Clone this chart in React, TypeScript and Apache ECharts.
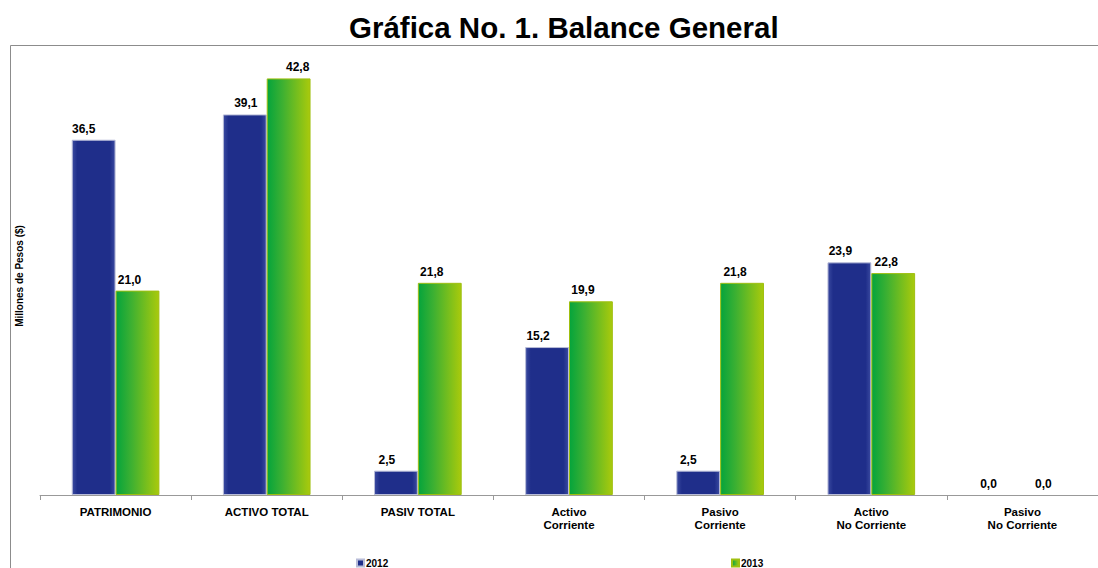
import React, { useEffect, useRef } from "react";
import * as echarts from "echarts";

const categories = [
  "PATRIMONIO",
  "ACTIVO TOTAL",
  "PASIV TOTAL",
  "Activo\nCorriente",
  "Pasivo\nCorriente",
  "Activo\nNo Corriente",
  "Pasivo\nNo Corriente",
];
const values2012 = [36.5, 39.1, 2.5, 15.2, 2.5, 23.9, 0.0];
const values2013 = [21.0, 42.8, 21.8, 19.9, 21.8, 22.8, 0.0];

// horizontal nudges of the value labels, as placed in the original
const labelShift2012 = [-10, 1, -9, -9, -10, -9, -12];
const labelShift2013 = [-8, 9, -8, -8, -7, -7, -1];

const FONT = "Arial, 'Liberation Sans', sans-serif";
const fmt = (p: any) => Number(p.value).toFixed(1).replace(".", ",");

function buildData(values: number[], shifts: number[]) {
  return values.map((v, i) => ({
    value: v,
    label: { offset: [shifts[i], 0] },
    itemStyle: v === 0 ? { borderWidth: 0 } : undefined,
  }));
}

export default function App() {
  const ref = useRef<HTMLDivElement>(null);
  useEffect(() => {
    if (!ref.current) return;
    const chart = echarts.init(ref.current, null, { renderer: "svg" });
    const blue = new echarts.graphic.LinearGradient(0, 0, 1, 0, [
      { offset: 0, color: "#3a4aa0" },
      { offset: 0.12, color: "#1f2e8a" },
      { offset: 0.88, color: "#1f2e8a" },
      { offset: 1, color: "#3a4aa0" },
    ]);
    const green = new echarts.graphic.LinearGradient(0, 0, 1, 0, [
      { offset: 0, color: "#05a43c" },
      { offset: 0.35, color: "#3cb032" },
      { offset: 1, color: "#a9ca0c" },
    ]);
    const labelStyle = {
      show: true,
      position: "top" as const,
      distance: 5,
      formatter: fmt,
      color: "#000",
      fontFamily: FONT,
      fontWeight: "bold" as const,
      fontSize: 12,
    };
    const legendText = {
      fontFamily: FONT,
      fontWeight: "bold" as const,
      fontSize: 10,
      color: "#000",
      padding: [0, 0, 0, -3],
    };
    chart.setOption({
      animation: false,
      backgroundColor: "#fff",
      title: {
        text: "Gráfica No. 1. Balance General",
        left: 344,
        top: 7,
        textStyle: {
          fontFamily: FONT,
          fontWeight: "bold",
          fontSize: 29.5,
          color: "#000",
        },
      },
      graphic: [
        {
          type: "rect",
          shape: { x: 10.5, y: 45.5, width: 1100, height: 600 },
          style: { fill: "none", stroke: "#8c8c8c", lineWidth: 1 },
          silent: true,
          z: -1,
        },
      ],
      legend: [
        {
          data: ["2012"],
          left: 351,
          top: 553,
          itemWidth: 7,
          itemHeight: 7,
          icon: "rect",
          textStyle: legendText,
        },
        {
          data: ["2013"],
          left: 726,
          top: 553,
          itemWidth: 7,
          itemHeight: 7,
          icon: "rect",
          textStyle: legendText,
        },
      ],
      grid: { left: 40, right: 0, top: 57, bottom: 73 },
      xAxis: {
        type: "category",
        data: categories,
        axisLine: { lineStyle: { color: "#999", width: 1 } },
        axisTick: { show: true, length: 5, lineStyle: { color: "#999" } },
        axisLabel: {
          color: "#000",
          fontFamily: FONT,
          fontWeight: "bold",
          fontSize: 11.5,
          margin: 10,
          lineHeight: 13,
          interval: 0,
        },
      },
      yAxis: {
        type: "value",
        min: 0,
        max: 45,
        name: "Millones de Pesos ($)",
        nameLocation: "middle",
        nameGap: 16,
        nameTextStyle: {
          color: "#000",
          fontFamily: FONT,
          fontWeight: "bold",
          fontSize: 10,
        },
        axisLine: { show: false },
        axisTick: { show: false },
        axisLabel: { show: false },
        splitLine: { show: false },
      },
      series: [
        {
          name: "2012",
          type: "bar",
          data: buildData(values2012, labelShift2012),
          barGap: "0%",
          barCategoryGap: "42%",
          itemStyle: { color: blue, borderColor: "#b8bcd8", borderWidth: 1 },
          label: labelStyle,
        },
        {
          name: "2013",
          type: "bar",
          data: buildData(values2013, labelShift2013),
          itemStyle: { color: green, borderColor: "#9fbf10", borderWidth: 1 },
          label: labelStyle,
        },
      ],
    });
    return () => chart.dispose();
  }, []);
  return (
    <div
      ref={ref}
      style={{ position: "absolute", left: 0, top: 0, width: 1098, height: 568 }}
    />
  );
}
